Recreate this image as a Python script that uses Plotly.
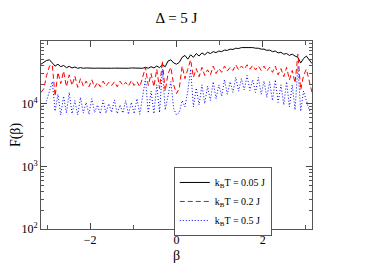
import numpy as np
import plotly.graph_objects as go

# beta grid (sampling of the x axis from -pi to pi)
beta = np.linspace(-np.pi, np.pi, 97)

# log10 F(beta) values
log_F_005 = [4.63, 4.66, 4.69, 4.70, 4.64, 4.60, 4.63, 4.59, 4.61, 4.575,
             4.595, 4.57, 4.585, 4.565, 4.575, 4.565, 4.57, 4.565, 4.568, 4.565,
             4.567, 4.565, 4.567, 4.565, 4.567, 4.565, 4.567, 4.565, 4.567, 4.565,
             4.568, 4.565, 4.57, 4.57, 4.565, 4.575, 4.565, 4.58, 4.565, 4.59,
             4.57, 4.60, 4.575, 4.62, 4.59, 4.68, 4.70, 4.65, 4.63, 4.66,
             4.74, 4.77, 4.71, 4.78, 4.74, 4.80, 4.76, 4.81, 4.78, 4.82,
             4.80, 4.83, 4.815, 4.84, 4.83, 4.855, 4.85, 4.87, 4.865, 4.885,
             4.88, 4.895, 4.895, 4.90, 4.895, 4.895, 4.885, 4.885, 4.87, 4.87,
             4.85, 4.855, 4.83, 4.84, 4.81, 4.82, 4.79, 4.80, 4.77, 4.79,
             4.76, 4.74, 4.65, 4.72, 4.76, 4.70, 4.64]

log_F_02 = [4.18, 4.24, 4.45, 4.60, 4.62, 4.12, 4.50, 4.32, 4.52, 4.27,
            4.46, 4.29, 4.44, 4.26, 4.40, 4.28, 4.36, 4.27, 4.38, 4.26,
            4.34, 4.27, 4.36, 4.28, 4.34, 4.29, 4.35, 4.27, 4.36, 4.29,
            4.34, 4.28, 4.37, 4.29, 4.35, 4.27, 4.42, 4.58, 4.29, 4.48,
            4.27, 4.55, 4.24, 4.68, 4.20, 4.48, 4.58, 4.30, 4.16, 4.25,
            4.60, 4.40, 4.55, 4.70, 4.42, 4.56, 4.43, 4.58, 4.45, 4.54,
            4.46, 4.60, 4.48, 4.56, 4.50, 4.60, 4.52, 4.58, 4.53, 4.62,
            4.54, 4.60, 4.55, 4.62, 4.55, 4.61, 4.54, 4.60, 4.53, 4.60,
            4.52, 4.58, 4.50, 4.60, 4.46, 4.56, 4.43, 4.58, 4.38, 4.53,
            4.33, 4.79, 4.22, 4.45, 4.55, 4.38, 4.18]

log_F_05 = [3.92, 3.98, 4.05, 4.20, 4.35, 3.88, 4.15, 3.82, 4.12, 3.85,
            4.18, 3.84, 4.05, 3.82, 4.10, 3.85, 4.02, 3.83, 4.08, 3.86,
            3.98, 3.84, 4.05, 3.85, 4.00, 3.86, 4.06, 3.84, 3.98, 3.85,
            4.05, 3.83, 4.02, 3.84, 4.08, 3.83, 4.12, 4.40, 3.85, 4.20,
            3.84, 4.30, 3.86, 4.55, 3.90, 4.15, 4.35, 3.92, 3.82, 3.86,
            4.05, 3.95, 4.20, 4.55, 3.95, 4.25, 3.98, 4.30, 4.00, 4.28,
            4.05, 4.35, 4.08, 4.30, 4.12, 4.38, 4.15, 4.35, 4.18, 4.42,
            4.20, 4.40, 4.22, 4.45, 4.21, 4.38, 4.18, 4.42, 4.15, 4.36,
            4.10, 4.35, 4.05, 4.38, 4.02, 4.30, 3.98, 4.35, 3.95, 4.30,
            3.90, 4.60, 3.88, 4.20, 4.05, 3.90, 3.84]

names = ["k<sub>B</sub>T = 0.05 J", "k<sub>B</sub>T = 0.2 J", "k<sub>B</sub>T = 0.5 J"]
y_tickvals = [100, 1000, 10000]
y_ticktext = ["10<sup>2</sup>", "10<sup>3</sup>", "10<sup>4</sup>"]
x_tickvals = [-2, 0, 2]

FONT = "Times New Roman, Liberation Serif, serif"

# page body has an 8px margin, so the figure is drawn at (8, 8)
W, H = 366, 256
L, R, T, B = 33, 62, 33, 35

fig = go.Figure()
fig.add_trace(go.Scatter(x=beta, y=10 ** np.array(log_F_005), mode="lines", name=names[0],
                         line=dict(color="black", width=1)))
fig.add_trace(go.Scatter(x=beta, y=10 ** np.array(log_F_02), mode="lines", name=names[1],
                         line=dict(color="#ff0000", width=1, dash="5px,3px")))
fig.add_trace(go.Scatter(x=beta, y=10 ** np.array(log_F_05), mode="lines", name=names[2],
                         line=dict(color="#0000ff", width=1, dash="1px,2px")))

minor_y = [m * 10 ** e for e in (2, 3, 4) for m in range(2, 10)]

fig.update_layout(
    width=W, height=H,
    margin=dict(l=L, r=R, t=T, b=B, autoexpand=False),
    paper_bgcolor="white", plot_bgcolor="white",
    font=dict(family=FONT, size=13, color="black"),
    title=dict(text="Δ = 5 J", x=(L + (W - R)) / 2 / W, xanchor="center",
               y=1 - 10 / H, yanchor="middle", font=dict(family=FONT, size=15)),
    showlegend=True,
    legend=dict(x=0.49, y=0.33, xanchor="left", yanchor="top",
                bordercolor="#555555", borderwidth=1, bgcolor="white",
                font=dict(family=FONT, size=10), itemwidth=30,
                tracegroupgap=0),
)
fig.update_xaxes(
    range=[-np.pi, np.pi], tickvals=x_tickvals, ticks="inside", ticklen=6,
    showline=True, linecolor="#555555", linewidth=1, mirror="ticks",
    showgrid=False, zeroline=False, tickfont=dict(size=12), automargin=False,
    minor=dict(tickvals=[-3, -1, 1, 3], ticks="inside", ticklen=4, tickcolor="#555555"),
    title=dict(text="β", font=dict(size=14), standoff=3),
)
fig.update_yaxes(
    type="log", range=[2, 5], tickvals=y_tickvals, ticktext=y_ticktext,
    ticks="inside", ticklen=6, showline=True, linecolor="#555555", linewidth=1,
    mirror="ticks", showgrid=False, zeroline=False, tickfont=dict(size=12), automargin=False,
    minor=dict(tickvals=minor_y, ticks="inside", ticklen=3, tickcolor="#555555"),
    title=dict(text="F(β)", font=dict(size=14), standoff=2),
)

fig.write_html("out.html")
